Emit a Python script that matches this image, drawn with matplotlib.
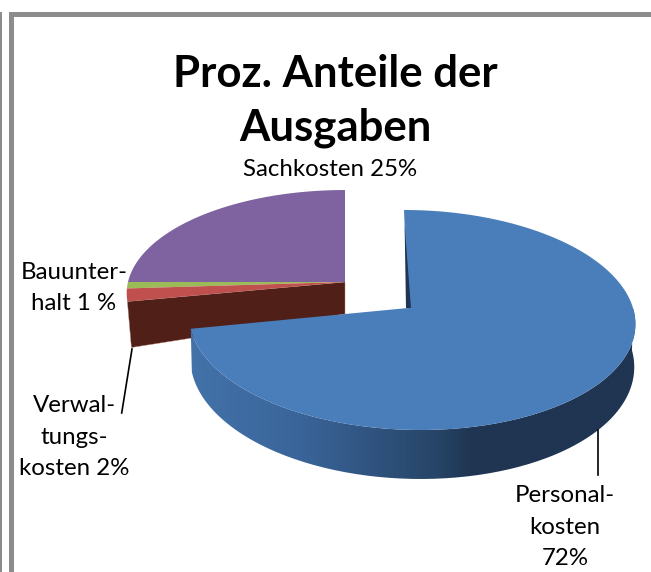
import numpy as np
import matplotlib
matplotlib.use('Agg')
import matplotlib.pyplot as plt
from matplotlib.colors import LinearSegmentedColormap
from matplotlib.patches import PathPatch, Polygon, Rectangle
from matplotlib.path import Path

plt.rcParams['font.family'] = ['Lato', 'DejaVu Sans']

# shares in percent, clockwise from the top of the pie
names = ['Personalkosten', 'Verwaltungskosten', 'Bauunterhalt', 'Sachkosten']
shares = [72, 2, 1, 25]
colors = ['#4a7ebb', '#c0504d', '#9bbb59', '#7f62a0']

title_lines = 'Proz. Anteile der\nAusgaben'
label_sach = 'Sachkosten 25%'
label_bau = 'Bauunter-\nhalt 1 %'
label_verw = 'Verwal-\ntungs-\nkosten 2%'
label_pers = 'Personal-\nkosten\n72%'

frame_col = '#8c8c8c'
k = 0.109  # perspective


def rim(t, cx, cy, rx, ry, shear=0.0, apex_dx=0.0):
    # point(s) on the tilted circle, t in degrees
    t = np.radians(t)
    s = 1 / (1 + k * np.sin(t))
    return np.column_stack([cx + apex_dx + (rx * np.cos(t) + shear * np.sin(t)) * s,
                            cy - ry * np.sin(t) * s])


# slice limits from the shares, going clockwise from 90 deg
edges = 90 - np.cumsum([0] + shares) * 3.6

fig = plt.figure(figsize=(6.51, 5.72), dpi=100)
ax = fig.add_axes([0, 0, 1, 1])
ax.set_xlim(0, 651)
ax.set_ylim(572, 0)
ax.axis('off')

# frame of the page
ax.add_patch(Rectangle((0, 12), 2, 560, color=frame_col, lw=0))
ax.add_patch(Rectangle((9, 12), 4.5, 560, color=frame_col, lw=0))
ax.add_patch(Rectangle((9, 12), 642, 5, color=frame_col, lw=0))

# back part: the three small slices, pulled away from the big one
back = dict(cx=345, cy=282, rx=217, ry=102)
apex = np.array([back['cx'], back['cy']])

# cut wall below the red slice
p = rim(edges[1], **back)[0]
wall = [apex, p, p + [4, 46], apex + [0, 32]]
ax.add_patch(Polygon(wall, closed=True, fc='#4f1f18', ec='#b98a80', lw=0.3, zorder=2))

for i in [3, 2, 1]:
    ts = np.linspace(edges[i + 1], edges[i], 80)
    pts = np.vstack([apex, rim(ts, **back)])
    ax.add_patch(Polygon(pts, closed=True, fc=colors[i], ec='none', zorder=3))

# big slice
big = dict(cx=408, cy=308, rx=221.6, ry=108.7, shear=-8.2, apex_dx=3.4)
big_apex = np.array([big['cx'], big['cy']])
ts = np.linspace(edges[0], edges[1], 300)
top = rim(ts, **big)

# side of the big slice, only the part that faces the viewer
ts_side = ts[ts <= 0]
upper = rim(ts_side, **big)
lower = upper.copy()
mid_x = big['cx'] + big['apex_dx']
lower[:, 0] = mid_x + (lower[:, 0] - mid_x) * 0.995
lower[:, 1] = lower[:, 1] + 42 + 7 * np.clip(-np.sin(np.radians(ts_side)), 0, 1)
side = np.vstack([upper, lower[::-1]])
side_patch = PathPatch(Path(np.vstack([side, side[0]])), fc='none', ec='none')
ax.add_patch(side_patch)
ramp = LinearSegmentedColormap.from_list('side', [(0, '#4373aa'), (0.25, '#3a659a'),
                                                  (0.56, '#264466'), (0.63, '#1f3552'),
                                                  (1, '#1f3552')])
grad = ax.imshow(np.linspace(0, 1, 256)[None, :], extent=(185, 640, 500, 300), cmap=ramp,
                 aspect='auto', zorder=3.5, interpolation='bilinear')
grad.set_clip_path(side_patch)
ax.set_xlim(0, 651)
ax.set_ylim(572, 0)

ax.add_patch(Polygon(np.vstack([big_apex, top]), closed=True, fc=colors[0], ec='none', zorder=4))

# thin dark sliver along the start edge
start = rim(edges[0], **big)[0]
sliver = [start + (big_apex - start) * 0.15, big_apex + [-2, 0], big_apex + [3, 0]]
ax.add_patch(Polygon(sliver, closed=True, fc='#1f3552', ec='none', zorder=5))

# leader lines
ax.plot([132, 121.7], [349, 413], color='black', lw=1.2, zorder=6)
ax.plot([597.5, 597.5], [430, 475], color='black', lw=1.2, zorder=6)

# texts
ax.text(335, 101, title_lines, ha='center', va='center', fontsize=31.5, fontweight='bold',
        linespacing=1.38, color='black')
txt = dict(ha='center', va='center', fontsize=17.3, linespacing=1.63, color='black', zorder=7)
ax.text(330, 170, label_sach, **txt)
ax.text(74, 288, label_bau, **txt)
ax.text(74, 437, label_verw, **txt)
ax.text(565, 527, label_pers, **txt)

fig.savefig('out.png', dpi=100)
